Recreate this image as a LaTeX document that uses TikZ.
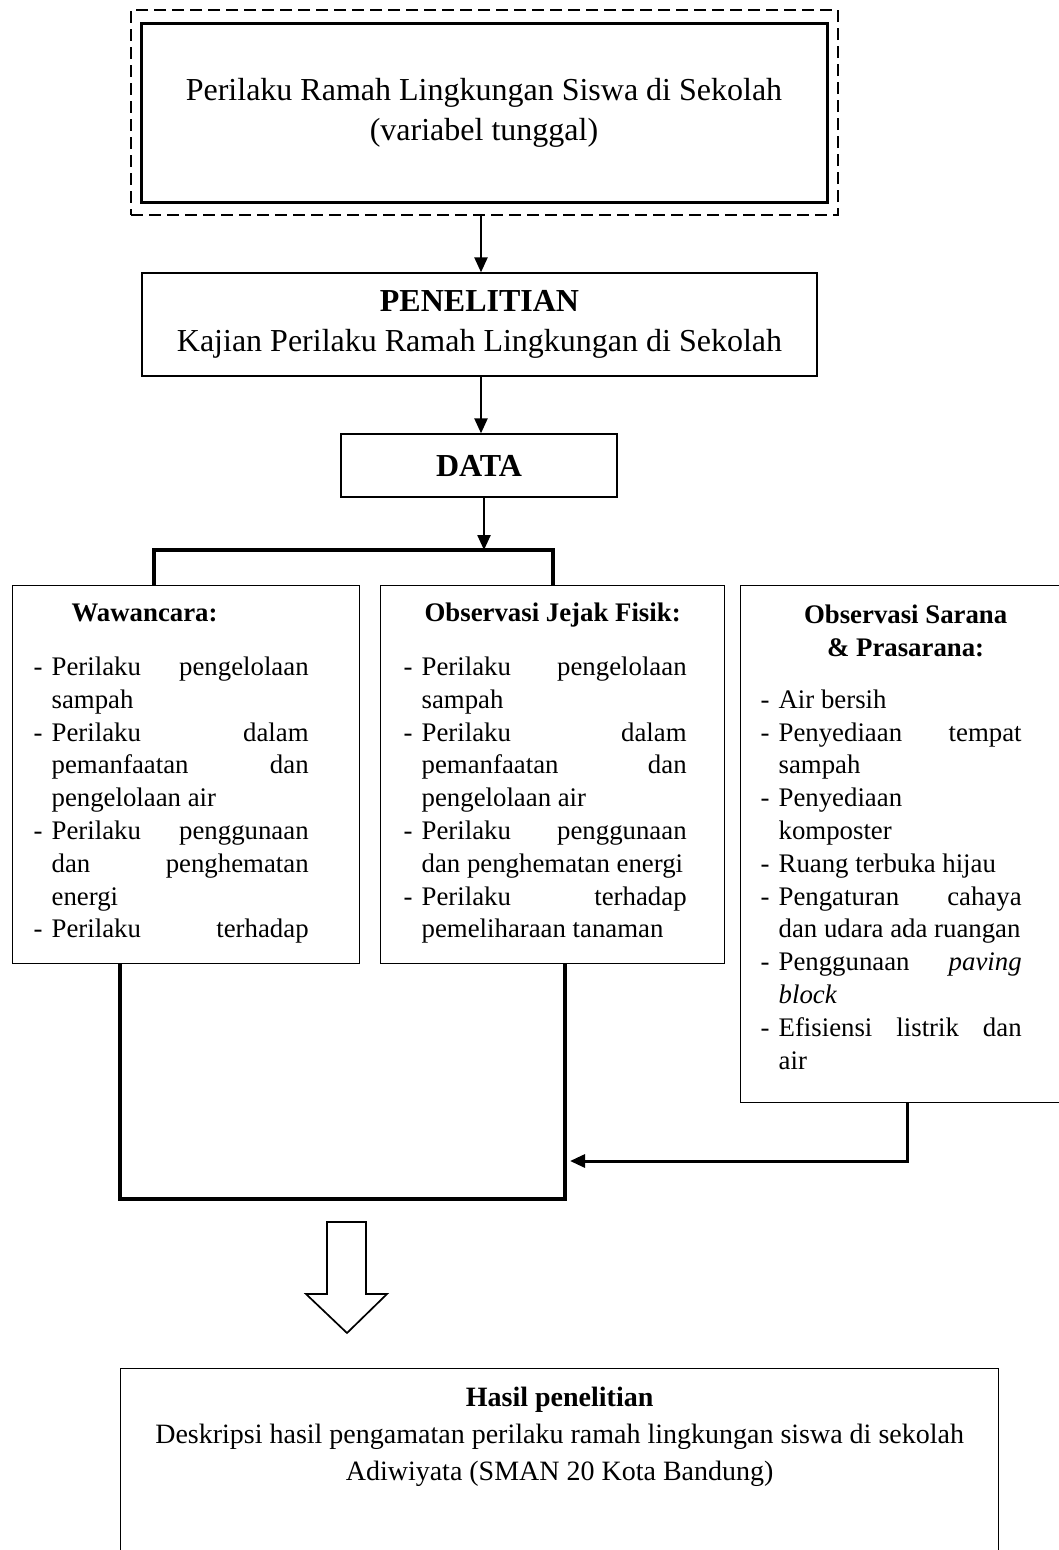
\documentclass[tikz,border=0pt]{standalone}
\usepackage{fontspec}
\setmainfont{Liberation Serif}
\usetikzlibrary{arrows.meta}
\newcommand{\bodysize}{\fontsize{26.8}{32.8}\selectfont}
\newcommand{\bigsize}{\fontsize{32}{40}\selectfont}
\newcommand{\botsize}{\fontsize{28}{37}\selectfont}
% one item of a list with a hanging dash
\newcommand{\itm}[1]{\par\hangindent=18pt\hangafter=1\noindent\makebox[18pt][l]{-}#1\par}
\newcommand{\boxsetup}{\hbadness=10000 \hfuzz=6pt \hyphenpenalty=10000 \parindent=0pt}
\tikzset{
    box/.style={draw, line width=1.3pt, inner sep=0pt},
    arr/.style={line width=2.4pt, -{Triangle[length=15pt,width=13pt]}},
    joint/.style={line width=4pt},
}

\begin{document}
\begin{tikzpicture}[x=1pt, y=-1pt]
    \useasboundingbox (0,0) rectangle (1059,1550);
    \clip (0,0) rectangle (1059,1550);

    % variabel
    \node (frame) at (484.5,112.5) [draw, line width=2.4pt, dash pattern=on 12pt off 6pt, minimum width=707pt, minimum height=205pt] {};
    \node (var) at (484,112.5) [draw, line width=3pt, minimum width=686pt, minimum height=179pt, align=center, font=\bigsize] {Perilaku Ramah Lingkungan Siswa di Sekolah\\(variabel tunggal)};

    % penelitian dan data
    \node (pen) at (479.5,324.5) [box, minimum width=675pt, minimum height=103pt, align=center, font=\bigsize] {\textbf{PENELITIAN}\\Kajian Perilaku Ramah Lingkungan di Sekolah};
    \node (data) at (479,465.5) [box, minimum width=276pt, minimum height=63pt, font=\bigsize] {\textbf{DATA}};

    % tiga kotak
    \node (waw) at (12,585) [box, anchor=north west, font=\bodysize] {%
        \begin{minipage}[t][378pt][t]{347pt}\boxsetup
        \leftskip=21pt \rightskip=51pt
        \rule{0pt}{36pt}\hspace*{38pt}\textbf{Wawancara:}\par\vspace{21pt}
        \itm{Perilaku pengelolaan\linebreak sampah}
        \itm{Perilaku dalam\linebreak pemanfaatan dan\linebreak pengelolaan air}
        \itm{Perilaku penggunaan\linebreak dan penghematan\linebreak energi}
        \itm{Perilaku\hfill terhadap}
        \end{minipage}};
    \node (jej) at (380,585) [box, anchor=north west, font=\bodysize] {%
        \begin{minipage}[t][378pt][t]{344pt}\boxsetup
        \leftskip=23pt \rightskip=38pt
        {\centering\rule{0pt}{36pt}\textbf{Observasi Jejak Fisik:}\par}\vspace{21pt}
        \itm{Perilaku pengelolaan\linebreak sampah}
        \itm{Perilaku dalam\linebreak pemanfaatan dan\linebreak pengelolaan air}
        \itm{Perilaku penggunaan\linebreak dan penghematan energi}
        \itm{Perilaku terhadap\linebreak pemeliharaan tanaman}
        \end{minipage}};
    \node (sar) at (740,585) [box, anchor=north west, font=\bodysize] {%
        \begin{minipage}[t][517pt][t]{330pt}\boxsetup
        \leftskip=20pt \rightskip=49pt
        {\centering\rule{0pt}{38pt}\textbf{Observasi Sarana}\\\textbf{\& Prasarana:}\par}\vspace{19pt}
        \itm{Air bersih}
        \itm{Penyediaan tempat\linebreak sampah}
        \itm{Penyediaan\linebreak komposter}
        \itm{Ruang terbuka hijau}
        \itm{Pengaturan cahaya\linebreak dan udara ada ruangan}
        \itm{Penggunaan \textit{paving}\linebreak \textit{block}}
        \itm{Efisiensi listrik dan\linebreak air}
        \end{minipage}};

    % hasil
    \node (hasil) at (120,1368) [box, anchor=north west, font=\botsize] {%
        \begin{minipage}[t][200pt][t]{878pt}\centering
        \rule{0pt}{38pt}\textbf{Hasil penelitian}\\
        Deskripsi hasil pengamatan perilaku ramah lingkungan siswa di sekolah\\
        Adiwiyata (SMAN 20 Kota Bandung)
        \end{minipage}};

    % titik bantu
    \coordinate (down) at (481,0);
    \coordinate (datadown) at (484,0);
    \coordinate (splitL) at (154,550);
    \coordinate (splitR) at (553,550);
    \coordinate (joinL) at (120,1199);
    \coordinate (joinR) at (565,1199);
    \coordinate (sarout) at (907,1102);
    \coordinate (inlet) at (570,1161);

    \draw[arr] (down |- frame.south) -- (down |- pen.north);
    \draw[arr] (down |- pen.south) -- (down |- data.north);
    \draw[arr] (datadown |- data.south) -- (datadown |- splitL);
    \draw[joint] (splitL |- waw.north) -- (splitL) -- (splitR) -- (splitR |- jej.north);
    \draw[joint] (joinL |- waw.south) -- (joinL) -- (joinR) -- (joinR |- jej.south);
    \draw[arr, line width=3pt] (sarout) -- (sarout |- inlet) -- (inlet);

    % panah besar
    \draw[line width=1.7pt, line join=miter]
        (327,1222) -- (366,1222) -- (366,1294) -- (387,1294) -- (347,1333)
        -- (306,1294) -- (327,1294) -- cycle;
\end{tikzpicture}
\end{document}
